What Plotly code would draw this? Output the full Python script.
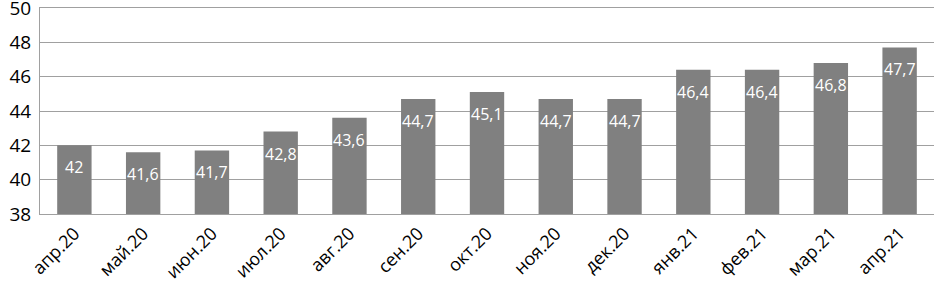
import plotly.graph_objects as go

categories = ["апр.20", "май.20", "июн.20", "июл.20", "авг.20", "сен.20", "окт.20",
              "ноя.20", "дек.20", "янв.21", "фев.21", "мар.21", "апр.21"]
values = [42, 41.6, 41.7, 42.8, 43.6, 44.7, 45.1, 44.7, 44.7, 46.4, 46.4, 46.8, 47.7]
labels = [f"{v:g}".replace(".", ",") for v in values]
y_ticks = [38, 40, 42, 44, 46, 48, 50]

FONT = "Open Sans"

fig = go.Figure()
fig.add_trace(go.Bar(
    x=categories, y=values,
    marker=dict(color="#808080", line=dict(width=0)),
    width=0.5,
    hoverinfo="skip",
))
for c, v, t in zip(categories, values, labels):
    fig.add_annotation(x=c, y=v, text=t, showarrow=False, yanchor="middle",
                       yshift=-22, font=dict(family=FONT, size=16, color="white"))

fig.update_layout(
    width=934, height=285,
    margin=dict(l=40, r=0, t=8, b=71, autoexpand=False),
    paper_bgcolor="white", plot_bgcolor="white",
    showlegend=False,
    font=dict(family=FONT, color="black"),
)
fig.update_yaxes(
    range=[38, 50], tickvals=y_ticks, ticktext=[str(v) for v in y_ticks],
    showgrid=True, gridcolor="#a0a0a0", gridwidth=1,
    showline=True, linecolor="#a0a0a0", linewidth=1,
    zeroline=False, tickfont=dict(family=FONT, size=19, color="black"),
    ticks="", ticklabelstandoff=4, automargin=False, ticklabeloverflow="allow",
)
fig.update_xaxes(
    showline=True, linecolor="#a0a0a0", linewidth=1, mirror=True,
    tickangle=-45, tickfont=dict(family=FONT, size=18, color="black"),
    ticks="", showgrid=False, automargin=False, ticklabelstandoff=1,
)
fig.write_html("out.html", config={"displayModeBar": False},
               post_script="document.body.style.margin='0';document.body.style.overflow='hidden';")
